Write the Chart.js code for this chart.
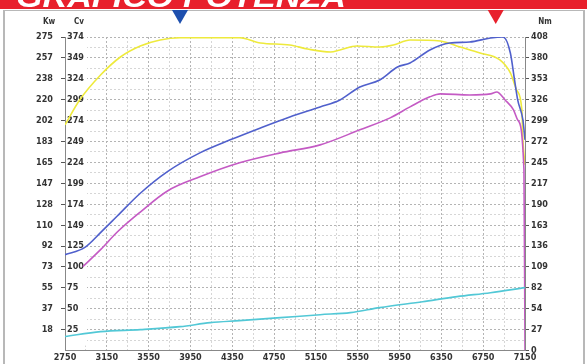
<!DOCTYPE html>
<html>
<head>
<meta charset="utf-8">
<script src="https://cdn.jsdelivr.net/npm/chart.js@4.4.0/dist/chart.umd.min.js"></script>
<style>
html,body{margin:0;padding:0;background:#fff;overflow:hidden}
#grafico{display:block}
</style>
</head>
<body>
<canvas id="grafico" width="587" height="364"></canvas>
<script>
let titolo = 'GRAFICO POTENZA'
let rpmLabels = ['2750','3150','3550','3950','4350','4750','5150','5550','5950','6350','6750','7150']
let kwLabels = ['18','37','55','73','92','110','128','147','165','183','202','220','238','257','275']
let cvLabels = ['25','50','75','100','125','149','174','199','224','249','274','299','324','349','374']
let nmLabels = ['0','27','54','82','109','136','163','190','217','245','272','299','326','353','380','408']

// potenza (kW)
let rpmPot = [2750,2940,3090,3250,3470,3730,4040,4330,4620,4900,5190,5380,5570,5760,5930,6050,6240,6430,6620,6820,6940,7010,7050,7080,7130,7150]
let kwPot = [84.1,90.5,103.5,118,138,157,173.4,184.8,195.3,204.9,213.7,219.8,231.2,237.3,248.7,252.2,263.6,269.7,270.6,274.1,275,261,237.3,219.8,202.3,184.8]
// potenza alla ruota (kW)
let rpmRuota = [2920,3090,3250,3470,3730,4040,4420,4810,5190,5570,5860,6050,6240,6340,6620,6820,6880,6960,7040,7080,7140,7150]
let kwRuota = [73.6,88.5,104,121.5,140,152.4,164.7,173.4,180.4,193.6,204.1,213.7,222.5,225.1,224.2,225.1,226.8,219.8,211.1,202.3,158.5,0]
// coppia (Nm)
let rpmCoppia = [2750,2890,3090,3280,3470,3660,3850,4420,4620,4900,5070,5290,5380,5540,5760,5890,6050,6340,6530,6720,6910,7010,7070,7120,7130,7150]
let nmCoppia = [293.7,326.1,358.6,382,396.3,404.1,407,407,400.2,397.6,392.4,388.5,391.1,396.3,395,397.6,404.1,402.8,395,387.2,378.1,361.2,339.1,313.2,274.2,241.7]
// perdite (kW)
let rpmPerdite = [2750,3090,3470,3850,4140,4420,4810,5190,5480,5760,6170,6500,6820,7150]
let kwPerdite = [12.3,16.6,18.4,21,24.5,26.3,28.9,31.5,33.3,37.7,42.9,47.3,50.8,55.2]
// picchi coppia / potenza
let picchi = [3850,6870]
let picchiColori = ['#1d4fae','#e8202c']

let serie = (xs,ys)=>xs.map((x,i)=>({x:x,y:ys[i]}))
let font = {family:'DejaVu Sans Condensed',size:9,weight:'bold'}

let sfondo = {
	id:'sfondo',
	beforeDraw:c=>{
		let g = c.ctx
		g.save()
		g.fillStyle='#fff'
		g.fillRect(0,0,c.width,c.height)
		g.fillStyle='#e8202c'
		g.fillRect(0,0,587,9)
		g.font='italic bold 30px "Liberation Sans"'
		let w = g.measureText(titolo).width
		g.translate(16,7)
		g.scale(330/w,1)
		g.fillStyle='#fff'
		g.textBaseline='alphabetic'
		g.fillText(titolo,0,0)
		g.restore()
		g.save()
		g.strokeStyle='#b8b8b8'
		g.lineWidth=2
		g.beginPath()
		g.moveTo(4,10);g.lineTo(4,364)
		g.moveTo(584,10);g.lineTo(584,364)
		g.stroke()
		g.lineWidth=1
		g.beginPath()
		g.moveTo(4,10.5);g.lineTo(584,10.5)
		g.stroke()
		g.restore()
	},
	beforeDatasetsDraw:c=>{
		let g = c.ctx, a = c.chartArea, y = c.scales.y
		g.save()
		g.fillStyle='#fff'
		g.fillRect(a.left+1,a.top-5,21,a.bottom-a.top)
		g.font='bold 9px "DejaVu Sans Condensed"'
		g.fillStyle='#333'
		g.textAlign='left'
		g.textBaseline='middle'
		cvLabels.forEach((t,i)=>{
			g.fillText(t,a.left+2,y.getPixelForValue((i+1)*275/15))
		})
		g.restore()
	},
	afterDraw:c=>{
		let g = c.ctx, x = c.scales.x
		g.save()
		picchi.forEach((p,i)=>{
			let px = x.getPixelForValue(p)
			g.fillStyle=picchiColori[i]
			g.beginPath()
			g.moveTo(px-8,10);g.lineTo(px+8,10);g.lineTo(px,24)
			g.closePath()
			g.fill()
		})
		g.font='bold 8px "DejaVu Sans Condensed"'
		g.fillStyle='#333'
		g.textAlign='center'
		g.textBaseline='middle'
		g.fillText('Kw',49,22)
		g.fillText('Cv',79,22)
		g.fillText('Nm',545,22)
		g.restore()
	}
}

let griglia = (ctx)=>ctx.index%2===0?'#b4b4b4':'#d6d6d6'

new Chart(document.getElementById('grafico'),{
	type:'line',
	data:{
		datasets:[
			{data:serie(rpmPerdite,kwPerdite),borderColor:'#52c8d6',yAxisID:'y'},
			{data:serie(rpmRuota,kwRuota),borderColor:'#c45ac4',yAxisID:'y'},
			{data:serie(rpmPot,kwPot),borderColor:'#5060cc',yAxisID:'y'},
			{data:serie(rpmCoppia,nmCoppia),borderColor:'#eeea3c',yAxisID:'y1'}
		]
	},
	options:{
		responsive:false,
		animation:false,
		devicePixelRatio:1,
		layout:{padding:{top:37,left:0,right:0,bottom:0}},
		elements:{
			point:{radius:0},
			line:{borderWidth:1.6,cubicInterpolationMode:'monotone',fill:false}
		},
		plugins:{legend:{display:false},tooltip:{enabled:false}},
		scales:{
			x:{
				type:'linear',min:2750,max:7150,
				afterBuildTicks:s=>{
					let t=[]
					for(let v=2750;v<=7150;v+=200){t.push({value:v})}
					s.ticks=t
				},
				afterFit:s=>{s.height=13},
				ticks:{
					autoSkip:false,maxRotation:0,padding:2,color:'#333',font:font,
					callback:(v,i)=>i%2===0?rpmLabels[i/2]:''
				},
				grid:{color:griglia,drawTicks:false,lineWidth:1},
				border:{display:true,color:'#888',dash:[2,2]}
			},
			y:{
				position:'left',min:0,max:275,
				afterBuildTicks:s=>{
					let t=[]
					for(let i=0;i<=30;i++){t.push({value:i*275/30})}
					s.ticks=t
				},
				afterFit:s=>{s.width=65},
				ticks:{
					autoSkip:false,padding:8,color:'#333',font:font,
					callback:(v,i)=>(i%2===0&&i>0)?kwLabels[i/2-1]:''
				},
				grid:{
					color:griglia,lineWidth:1,tickLength:4,
					tickColor:ctx=>(ctx.index%2===0&&ctx.index>0)?'#555':'rgba(0,0,0,0)'
				},
				border:{display:true,color:'#888',dash:[2,2]}
			},
			y1:{
				position:'right',min:0,max:408,
				afterBuildTicks:s=>{
					let t=[]
					for(let i=0;i<=15;i++){t.push({value:i*408/15})}
					s.ticks=t
				},
				afterFit:s=>{s.width=62},
				ticks:{
					autoSkip:false,padding:2,color:'#333',font:font,
					callback:(v,i)=>nmLabels[i]
				},
				grid:{drawOnChartArea:false,tickLength:4,tickColor:'#555'},
				border:{display:true,color:'#888'}
			}
		}
	},
	plugins:[sfondo]
})
</script>
</body>
</html>
